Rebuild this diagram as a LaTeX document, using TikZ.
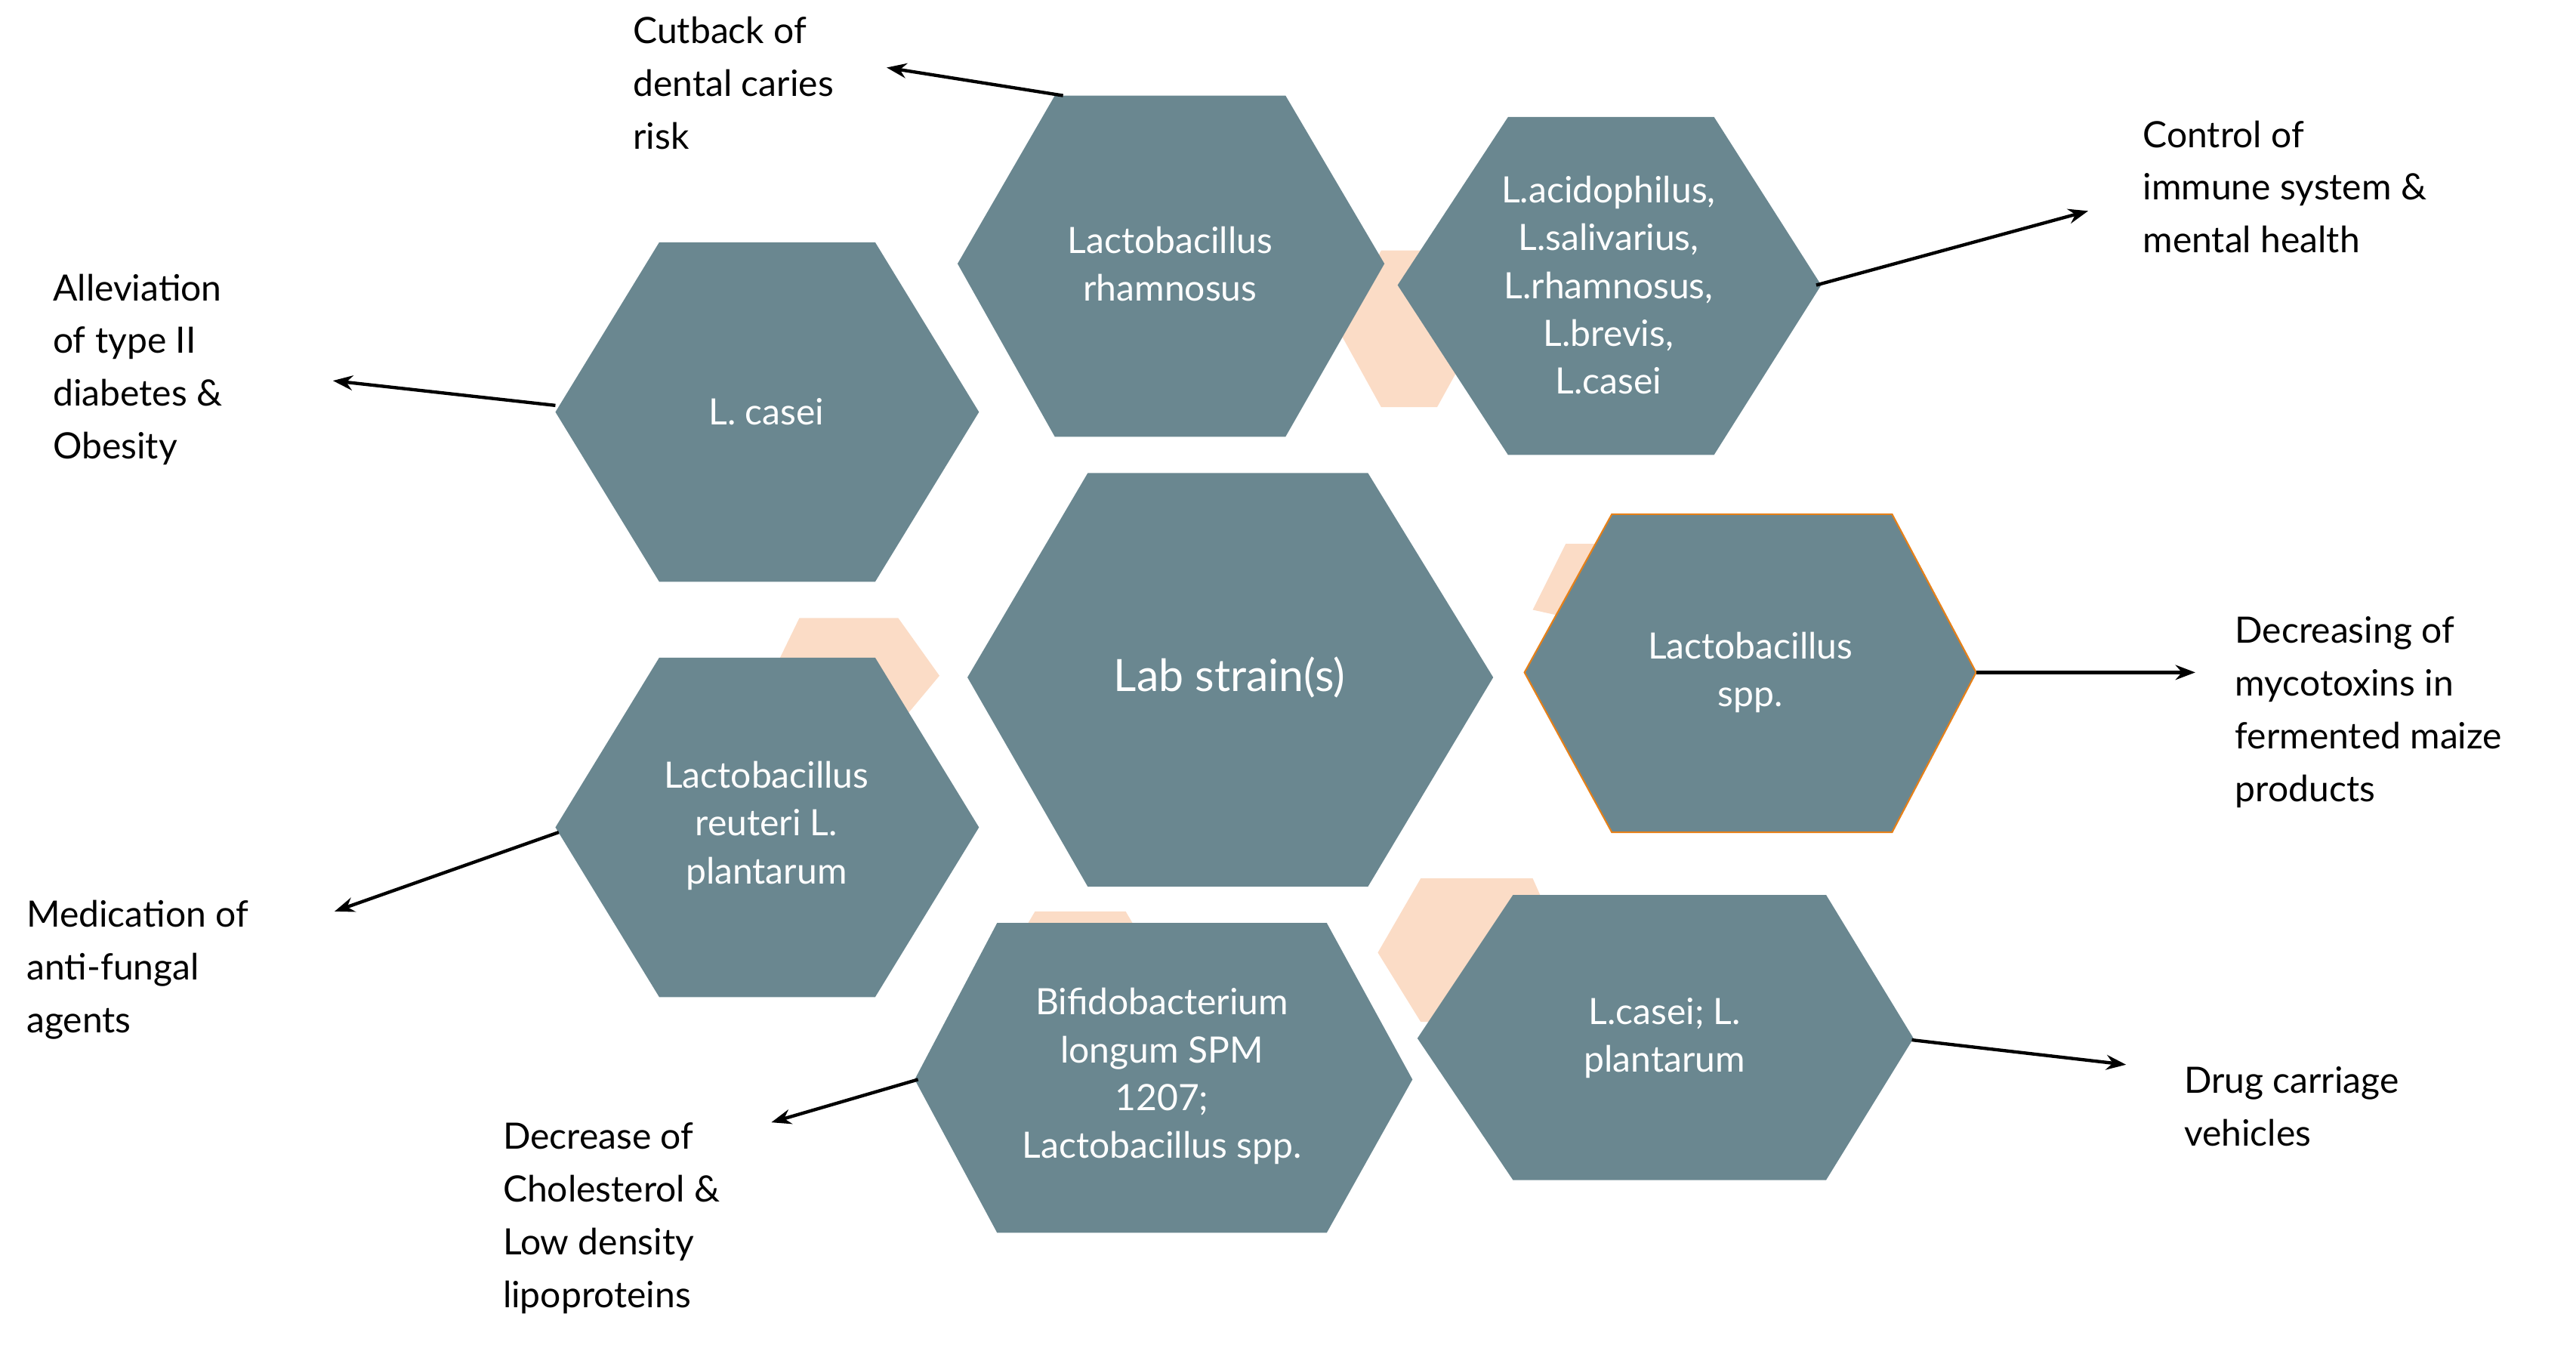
\documentclass[tikz,border=0pt]{standalone}
\usepackage{fontspec}
\setmainfont{Lato}
\usetikzlibrary{arrows.meta}
\definecolor{hex}{HTML}{6A8790}
\definecolor{peach}{HTML}{FBDCC6}
\begin{document}
\begin{tikzpicture}[x=1pt,y=-1pt,
  hx/.style={fill=hex,draw=none},
  pc/.style={fill=peach,draw=none},
  ht/.style={text=white,align=center,font=\fontsize{22}{29}\selectfont},
  lb/.style={anchor=north west,align=left,inner sep=0pt,font=\fontsize{22}{32}\selectfont},
  ar/.style={-{Stealth[length=12pt,width=9pt]},line width=2pt}]
\useasboundingbox (0,0) rectangle (1563,816);
% peach back hexagons
\fill[pc] (812,200)--(838,152)--(872,152)--(898,200)--(872,247)--(838,247)--cycle;
\fill[pc] (468,410)--(485,375)--(545,375)--(570,410)--(545,440)--(485,440)--cycle;
\fill[pc] (618,570)--(628,553)--(683,553)--(693,570)--cycle;
\fill[pc] (836,578)--(862,533)--(930,533)--(950,578)--(930,620)--(862,620)--cycle;
\fill[pc] (930,370)--(950,330)--(975,330)--(975,380)--cycle;
% hexagons
\fill[hx] (337,250)--(400,147)--(531,147)--(594,250)--(531,353)--(400,353)--cycle;
\node[ht] (casei) at (465,250) {L. casei};
\fill[hx] (581,160)--(640,58)--(780,58)--(840,160)--(780,265)--(640,265)--cycle;
\node[ht] (rham) at (710,160) {Lactobacillus\\rhamnosus};
\fill[hx] (848,173)--(915,71)--(1040,71)--(1105,173)--(1040,276)--(915,276)--cycle;
\node[ht] (acid) at (976,173) {L.acidophilus,\\L.salivarius,\\L.rhamnosus,\\L.brevis,\\L.casei};
\fill[hx] (587,411)--(660,287)--(830,287)--(906,411)--(830,538)--(660,538)--cycle;
\node[ht,font=\fontsize{27}{32}\selectfont] (lab) at (746,411) {Lab strain(s)};
\fill[hx,draw=orange!60!brown,line width=1pt] (925,408)--(978,312)--(1148,312)--(1199,408)--(1148,505)--(978,505)--cycle;
\node[ht] (spp) at (1062,408) {Lactobacillus\\spp.};
\fill[hx] (337,502)--(400,399)--(531,399)--(594,502)--(531,605)--(400,605)--cycle;
\node[ht] (reut) at (465,501) {Lactobacillus\\reuteri L.\\plantarum};
\fill[hx] (555,655)--(605,560)--(805,560)--(857,655)--(805,748)--(605,748)--cycle;
\node[ht] (bifi) at (705,653) {Bifidobacterium\\longum SPM\\1207;\\Lactobacillus spp.};
\fill[hx] (860,630)--(918,543)--(1108,543)--(1161,630)--(1108,716)--(918,716)--cycle;
\node[ht] (plan) at (1010,630) {L.casei; L.\\plantarum};
% labels
\node[lb] (t1) at (384,10) {Cutback of\\dental caries\\risk};
\node[lb] (t2) at (32,166) {Alleviation\\of type II\\diabetes \&\\Obesity};
\node[lb] (t3) at (1300,73) {Control of\\immune system \&\\mental health};
\node[lb] (t4) at (1356,374) {Decreasing of\\mycotoxins in\\fermented maize\\products};
\node[lb] (t5) at (16,546) {Medication of\\anti-fungal\\agents};
\node[lb] (t6) at (305,681) {Decrease of\\Cholesterol \&\\Low density\\lipoproteins};
\node[lb] (t7) at (1325,647) {Drug carriage\\vehicles};
% connector points
\coordinate (s1) at (645,58); \coordinate (e1) at (538,41);
\coordinate (s2) at (337,246); \coordinate (e2) at (202,231);
\coordinate (s3) at (1102,173); \coordinate (e3) at (1267,128);
\coordinate (s4) at (1199,408); \coordinate (e4) at (1332,408);
\coordinate (s5) at (339,505); \coordinate (e5) at (203,553);
\coordinate (s6) at (557,655); \coordinate (e6) at (468,681);
\coordinate (s7) at (1160,631); \coordinate (e7) at (1290,646);
\foreach \i in {1,...,7} \draw[ar] (s\i) -- (e\i);
\end{tikzpicture}
\end{document}
